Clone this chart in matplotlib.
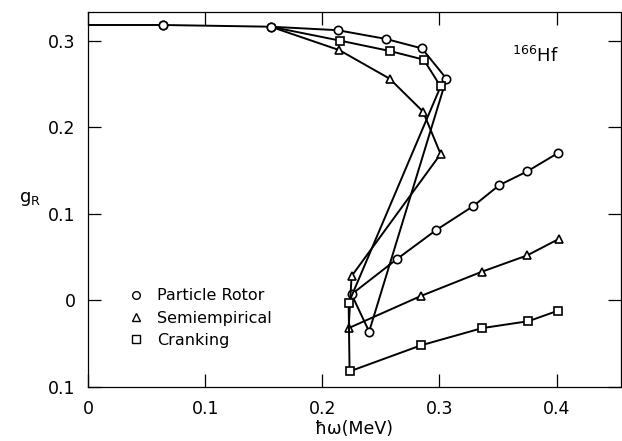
import matplotlib
matplotlib.use('Agg')
import matplotlib.pyplot as plt
from matplotlib.lines import Line2D

plt.rcParams['font.family'] = ['DejaVu Sans']

# shared low-frequency part (only circle markers drawn there)
common_x = [0.0, 0.064, 0.156]
common_y = [0.318, 0.318, 0.316]

rotor_x = [0.213, 0.254, 0.285, 0.306, 0.240, 0.225, 0.264, 0.297, 0.329, 0.351, 0.375, 0.401]
rotor_y = [0.312, 0.302, 0.291, 0.256, -0.036, 0.007, 0.048, 0.081, 0.109, 0.133, 0.149, 0.170]

semi_x = [0.2145, 0.2575, 0.286, 0.301, 0.225, 0.2225, 0.284, 0.336, 0.375, 0.402]
semi_y = [0.289, 0.256, 0.218, 0.169, 0.028, -0.032, 0.005, 0.033, 0.052, 0.071]

crank_x = [0.215, 0.2575, 0.2866, 0.301, 0.2225, 0.2233, 0.284, 0.3365, 0.376, 0.401]
crank_y = [0.300, 0.288, 0.278, 0.247, -0.003, -0.082, -0.052, -0.032, -0.024, -0.012]

labels = ['Particle Rotor', 'Semiempirical', 'Cranking']
markers = ['o', '^', 's']

xticks = [0, 0.1, 0.2, 0.3, 0.4]
xticklabels = ['0', '0.1', '0.2', '0.3', '0.4']
yticks = [-0.1, 0, 0.1, 0.2, 0.3]
yticklabels = ['0.1', '0', '0.1', '0.2', '0.3']

fig = plt.figure(figsize=(6.22, 4.41), dpi=100)
ax = fig.add_axes([88/622, 1 - 387/441, 533/622, 375/441])

mk = dict(color='black', lw=1.4, mfc='white', mec='black', mew=1.2, ms=6)

# circles carry the common start, the others start at the branching point
ax.plot(common_x + rotor_x, common_y + rotor_y, marker='o', markevery=list(range(1, len(rotor_x) + 3)), **mk)
ax.plot(common_x[-1:] + semi_x, common_y[-1:] + semi_y, marker='^', markevery=list(range(1, len(semi_x) + 1)), **mk)
ax.plot(common_x[-1:] + crank_x, common_y[-1:] + crank_y, marker='s', markevery=list(range(1, len(crank_x) + 1)), **mk)
# redraw circle at branch point on top
ax.plot(common_x[1:], common_y[1:], 'o', color='black', mfc='white', mec='black', mew=1.2, ms=6, zorder=5)

ax.set_xlim(0, 0.455)
ax.set_ylim(-0.1, 0.333)
ax.set_xticks(xticks)
ax.set_xticklabels(xticklabels)
ax.set_yticks(yticks)
ax.set_yticklabels(yticklabels)
ax.tick_params(direction='in', length=9.5, width=0.9, top=True, right=True, labelsize=12.5)
ax.tick_params(axis='x', pad=9)
ax.tick_params(axis='y', pad=9)
for s in ax.spines.values():
    s.set_linewidth(0.9)

ax.set_xlabel('\u0127\u03c9(MeV)', fontsize=12.5, labelpad=2)
ax.text(-0.108, 0.50, 'g$_\\mathregular{R}$', transform=ax.transAxes, fontsize=13, ha='center', va='center')
ax.text(0.795, 0.867, '$^{\\mathregular{166}}$Hf', transform=ax.transAxes, fontsize=13, ha='left', va='baseline')

handles = [Line2D([], [], ls='none', marker=m, mfc='white', mec='black', mew=1.0, ms=5.5) for m in markers]
ax.legend(handles, labels, loc='center left', bbox_to_anchor=(0.075, 0.184), frameon=False,
          fontsize=11.5, handlelength=1.0, handletextpad=0.8, labelspacing=0.45,
          borderpad=0, borderaxespad=0)

fig.savefig('out.png', dpi=100)
